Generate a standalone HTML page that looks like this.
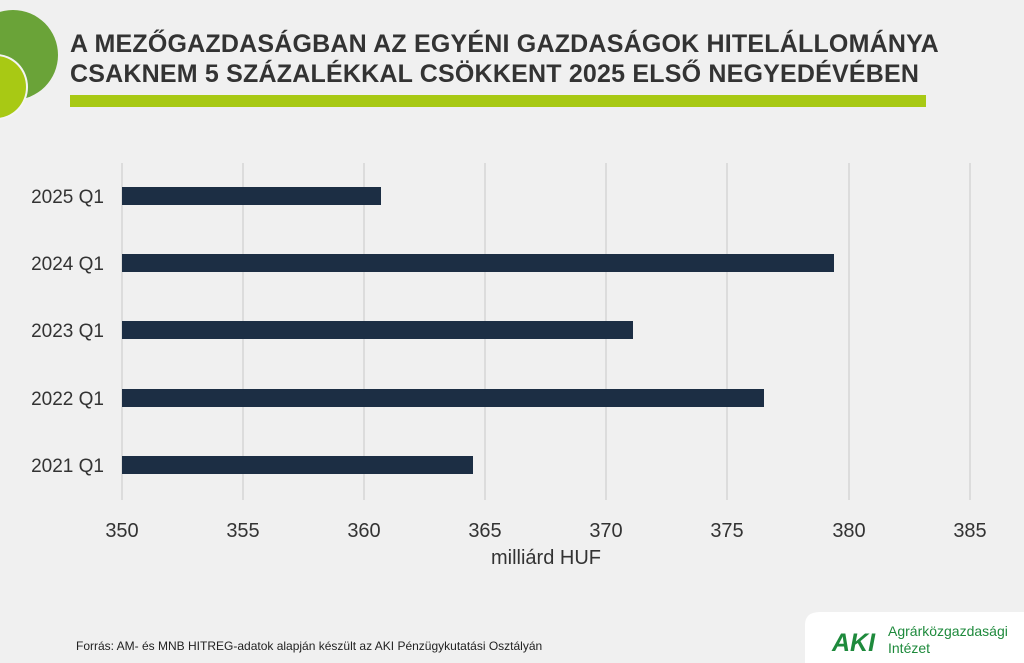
<!DOCTYPE html>
<html><head><meta charset="utf-8"><style>
body{margin:0;width:1024px;height:663px;background:#f0f0f0;position:relative;overflow:hidden;font-family:"Liberation Sans",sans-serif}
.t{position:absolute;left:70px;font-weight:bold;font-size:25px;color:#333;letter-spacing:0.2px;white-space:nowrap}
</style></head><body>
<div style="position:absolute;left:-32px;top:10px;width:90px;height:90px;border-radius:50%;background:#6aa338"></div>
<div style="position:absolute;left:-36px;top:54px;width:60px;height:62px;border-radius:50%;background:#a8c914;border:2px solid #f4f4f4"></div>
<div class="t" style="top:30px">A MEZŐGAZDASÁGBAN AZ EGYÉNI GAZDASÁGOK HITELÁLLOMÁNYA</div>
<div class="t" style="top:60px">CSAKNEM 5 SZÁZALÉKKAL CSÖKKENT 2025 ELSŐ NEGYEDÉVÉBEN</div>
<div style="position:absolute;left:70px;top:95px;width:856px;height:12px;background:#a8c914"></div>
<svg width="1024" height="663" style="position:absolute;left:0;top:0" font-family="Liberation Sans, sans-serif">
<g stroke="#d6d6d6" stroke-width="1.5">
<line x1="122" y1="163" x2="122" y2="500"/><line x1="243" y1="163" x2="243" y2="500"/><line x1="364" y1="163" x2="364" y2="500"/><line x1="485" y1="163" x2="485" y2="500"/><line x1="606" y1="163" x2="606" y2="500"/><line x1="727" y1="163" x2="727" y2="500"/><line x1="849" y1="163" x2="849" y2="500"/><line x1="970" y1="163" x2="970" y2="500"/>
</g>
<g fill="#1c2e44">
<rect x="122" y="187" width="259" height="18"/>
<rect x="122" y="254" width="712" height="18"/>
<rect x="122" y="321" width="511" height="18"/>
<rect x="122" y="389" width="642" height="18"/>
<rect x="122" y="456" width="351" height="18"/>
</g>
<g font-size="19" fill="#333" text-anchor="end">
<text x="104" y="203">2025 Q1</text><text x="104" y="270">2024 Q1</text><text x="104" y="337">2023 Q1</text><text x="104" y="405">2022 Q1</text><text x="104" y="472">2021 Q1</text>
</g>
<g font-size="20" fill="#333" text-anchor="middle">
<text x="122" y="537">350</text><text x="243" y="537">355</text><text x="364" y="537">360</text><text x="485" y="537">365</text><text x="606" y="537">370</text><text x="727" y="537">375</text><text x="849" y="537">380</text><text x="970" y="537">385</text>
<text x="546" y="564">milliárd HUF</text>
</g>
<text x="76" y="650" font-size="12" fill="#222">Forrás: AM- és MNB HITREG-adatok alapján készült az AKI Pénzügykutatási Osztályán</text>
<path d="M805 663 L805 625 Q805 612 820 612 L1024 612 L1024 663Z" fill="#fff"/>
<text x="832" y="651" font-size="25" font-weight="bold" fill="#1e8a3c" font-style="italic">AKI</text>
<text x="888" y="636" font-size="14" fill="#1e8a3c">Agrárközgazdasági</text>
<text x="888" y="653" font-size="14" fill="#1e8a3c">Intézet</text>
</svg>
</body></html>
